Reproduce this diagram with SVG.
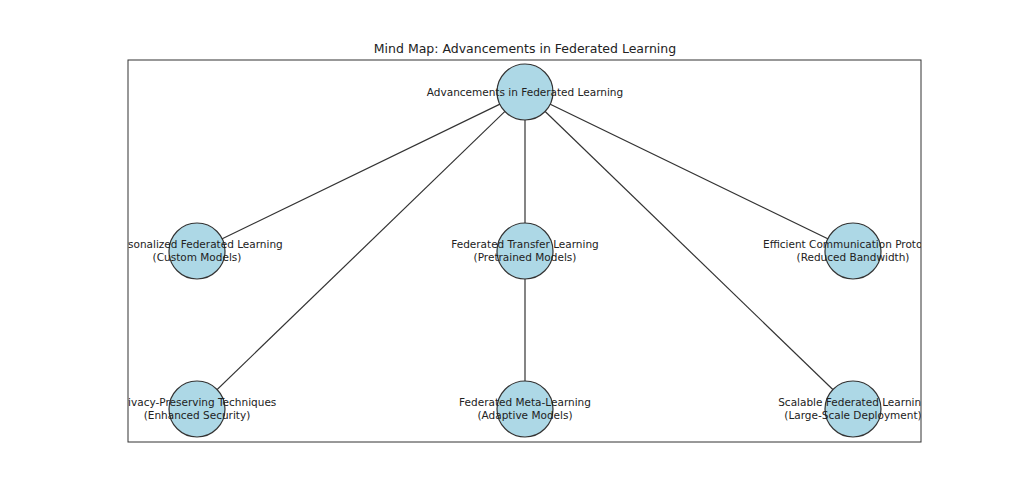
<svg xmlns="http://www.w3.org/2000/svg" width="1024" height="497" viewBox="0 0 1024 497">
<defs>
<clipPath id="ax"><rect x="128" y="60" width="793" height="382"/></clipPath>
<style>
.edge{stroke:#333;stroke-width:1.2;fill:none}
.node{fill:#add8e6;stroke:#333;stroke-width:1.2}
.lbl{font-family:"DejaVu Sans",sans-serif;font-size:10.5px;fill:#222;text-anchor:middle}
.title{font-family:"DejaVu Sans",sans-serif;font-size:12.5px;fill:#222;text-anchor:middle}
</style>
</defs>
<rect width="1024" height="497" fill="#fff"/>
<text class="title" x="525" y="53">Mind Map: Advancements in Federated Learning</text>
<g id="connectors" clip-path="url(#ax)">
<line class="edge" x1="525" y1="92" x2="197" y2="251"/>
<line class="edge" x1="525" y1="92" x2="525" y2="251"/>
<line class="edge" x1="525" y1="92" x2="853" y2="251"/>
<line class="edge" x1="525" y1="92" x2="197" y2="409"/>
<line class="edge" x1="525" y1="92" x2="853" y2="409"/>
<line class="edge" x1="525" y1="251" x2="525" y2="409"/>
</g>
<g clip-path="url(#ax)">
<g id="root"><circle class="node" cx="525" cy="92" r="28"/><text class="lbl" x="525" y="96">Advancements in Federated Learning</text></g>
<g id="personalized"><circle class="node" cx="197" cy="251" r="28"/><text class="lbl" x="197" y="248">Personalized Federated Learning</text><text class="lbl" x="197" y="261">(Custom Models)</text></g>
<g id="transfer"><circle class="node" cx="525" cy="251" r="28"/><text class="lbl" x="525" y="248">Federated Transfer Learning</text><text class="lbl" x="525" y="261">(Pretrained Models)</text></g>
<g id="communication"><circle class="node" cx="853" cy="251" r="28"/><text class="lbl" x="853" y="248">Efficient Communication Protocols</text><text class="lbl" x="853" y="261">(Reduced Bandwidth)</text></g>
<g id="privacy"><circle class="node" cx="197" cy="409" r="28"/><text class="lbl" x="197" y="406">Privacy-Preserving Techniques</text><text class="lbl" x="197" y="419">(Enhanced Security)</text></g>
<g id="meta"><circle class="node" cx="525" cy="409" r="28"/><text class="lbl" x="525" y="406">Federated Meta-Learning</text><text class="lbl" x="525" y="419">(Adaptive Models)</text></g>
<g id="scalable"><circle class="node" cx="853" cy="409" r="28"/><text class="lbl" x="853" y="406">Scalable Federated Learning</text><text class="lbl" x="853" y="419">(Large-Scale Deployment)</text></g>
</g>
<rect x="128" y="60" width="793" height="382" fill="none" stroke="#333" stroke-width="1"/>
</svg>
